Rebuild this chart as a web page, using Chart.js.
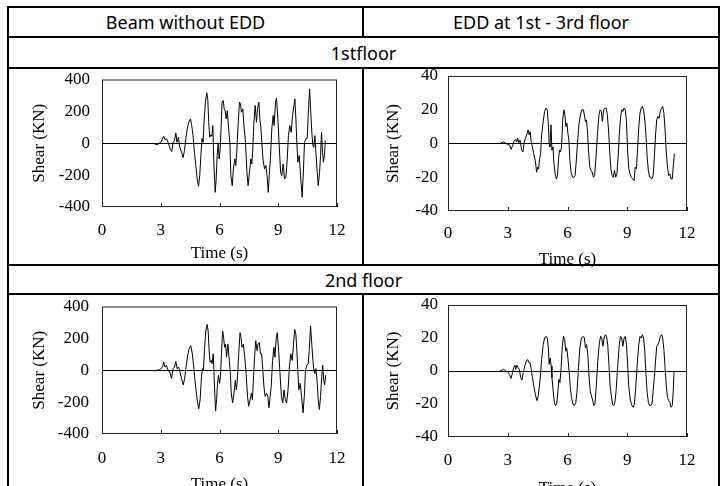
<!DOCTYPE html>
<html>
<head>
<meta charset="utf-8">
<script src="https://cdn.jsdelivr.net/npm/chart.js@4.4.0/dist/chart.umd.min.js"></script>
<style>
body { margin: 0; width: 722px; height: 486px; overflow: hidden; background: #fff; position: relative; }
.hl, .vl { position: absolute; background: #000; }
.hl { height: 2px; }
.vl { width: 2px; }
.cell { position: absolute; display: flex; align-items: center; justify-content: center;
        font-family: "Noto Sans", "Open Sans", sans-serif; font-size: 18px; color: #000; }
canvas { position: absolute; }
</style>
</head>
<body>
<!-- table lines -->
<div class="hl" style="left:7px;width:713px;top:6px"></div>
<div class="hl" style="left:7px;width:713px;top:36px"></div>
<div class="hl" style="left:7px;width:713px;top:67px"></div>
<div class="hl" style="left:7px;width:713px;top:264px"></div>
<div class="hl" style="left:7px;width:713px;top:293px"></div>
<div class="vl" style="left:7px;top:6px;height:480px"></div>
<div class="vl" style="left:718px;top:6px;height:480px"></div>
<div class="vl" style="left:362px;top:6px;height:32px"></div>
<div class="vl" style="left:362px;top:67px;height:199px"></div>
<div class="vl" style="left:362px;top:293px;height:193px"></div>

<div class="cell" style="left:9px;width:353px;top:8px;height:28px">Beam without EDD</div>
<div class="cell" style="left:364px;width:354px;top:8px;height:28px">EDD at 1st - 3rd floor</div>
<div class="cell" style="left:9px;width:709px;top:38px;height:29px">1stfloor</div>
<div class="cell" style="left:9px;width:709px;top:266px;height:27px">2nd floor</div>

<canvas id="c1"></canvas>
<canvas id="c2"></canvas>
<canvas id="c3"></canvas>
<canvas id="c4"></canvas>

<script>
// x and y ticks
const xTicks = [0, 3, 6, 9, 12];
const yTicksBeam = [-400, -200, 0, 200, 400];
const yTicksEdd = [-40, -20, 0, 20, 40];

// 1st floor, beam without EDD
const time1 = [
  2.60, 2.69, 2.81, 2.91, 3.00, 3.15, 3.22, 3.29, 3.37, 3.43,
  3.49, 3.56, 3.63, 3.70, 3.77, 3.83, 3.90, 3.97, 4.06, 4.14,
  4.21, 4.28, 4.35, 4.43, 4.52, 4.58, 4.65, 4.72, 4.79, 4.86,
  4.93, 4.99, 5.06, 5.11, 5.16, 5.21, 5.28, 5.35, 5.40, 5.45,
  5.50, 5.56, 5.61, 5.66, 5.71, 5.78, 5.83, 5.88, 5.93, 5.98,
  6.03, 6.08, 6.13, 6.19, 6.24, 6.29, 6.34, 6.40, 6.48, 6.53,
  6.58, 6.65, 6.71, 6.78, 6.83, 6.88, 6.95, 7.02, 7.07, 7.12,
  7.19, 7.26, 7.33, 7.40, 7.46, 7.53, 7.60, 7.65, 7.70, 7.75,
  7.82, 7.89, 7.94, 8.01, 8.06, 8.11, 8.16, 8.23, 8.30, 8.37,
  8.43, 8.49, 8.54, 8.60, 8.67, 8.74, 8.79, 8.86, 8.91, 8.98,
  9.05, 9.12, 9.18, 9.25, 9.32, 9.39, 9.46, 9.52, 9.59, 9.66,
  9.73, 9.80, 9.85, 9.90, 9.95, 10.00, 10.07, 10.14, 10.22, 10.29,
  10.34, 10.41, 10.48, 10.53, 10.60, 10.65, 10.72, 10.77, 10.82, 10.87,
  10.92, 10.99, 11.04, 11.11, 11.16, 11.21, 11.26, 11.31, 11.36, 11.40
];
const shear1 = [
  0, -4, -10, 0, 4, 44, 23, 27, 6, -15,
  -40, -52, 6, 17, 65, 6, 38, -25, -56, -90,
  -46, 27, 90, 132, 153, 111, 48, -56, -140, -224,
  -270, -203, -56, 31, 6, 132, 258, 316, 278, 132,
  38, 52, 44, 111, -119, -308, -224, -77, -4, -98,
  -46, 90, 258, 268, 216, 205, 153, 205, 69, 6,
  -203, -266, -161, -98, -140, -56, 111, 258, 247, 195,
  216, 90, 6, -182, -266, -182, -98, -130, -36, 111,
  237, 132, 216, 258, 153, 100, 6, -109, -161, -140,
  -203, -308, -203, -98, 90, 174, 111, 258, 283, 153,
  -15, -182, -203, -130, -224, -214, -98, 48, 111, 69,
  174, 237, 278, 153, 6, -119, -77, -203, -339, -161,
  6, 27, 31, 174, 341, 216, 59, -15, -25, 48,
  -56, -182, -266, -182, -77, 69, -56, -119, -77, 17
];

// 1st floor, EDD at 1st - 3rd floor
const time2 = [
  2.60, 2.70, 2.80, 2.90, 3.00, 3.10, 3.17, 3.25, 3.32, 3.40,
  3.45, 3.50, 3.56, 3.62, 3.70, 3.76, 3.82, 3.88, 3.95, 4.02,
  4.08, 4.12, 4.18, 4.24, 4.30, 4.38, 4.45, 4.50, 4.55, 4.60,
  4.65, 4.70, 4.78, 4.85, 4.92, 4.98, 5.03, 5.08, 5.12, 5.17,
  5.22, 5.27, 5.32, 5.38, 5.44, 5.50, 5.55, 5.60, 5.65, 5.70,
  5.76, 5.82, 5.87, 5.92, 5.97, 6.02, 6.07, 6.12, 6.18, 6.25,
  6.32, 6.38, 6.43, 6.50, 6.58, 6.65, 6.72, 6.80, 6.86, 6.90,
  6.95, 7.00, 7.06, 7.12, 7.18, 7.24, 7.30, 7.36, 7.42, 7.50,
  7.58, 7.64, 7.70, 7.75, 7.82, 7.88, 7.94, 8.00, 8.06, 8.12,
  8.18, 8.24, 8.30, 8.36, 8.42, 8.48, 8.54, 8.60, 8.66, 8.72,
  8.78, 8.84, 8.90, 8.96, 9.02, 9.08, 9.14, 9.20, 9.28, 9.34,
  9.40, 9.46, 9.52, 9.58, 9.64, 9.70, 9.76, 9.82, 9.88, 9.94,
  10.00, 10.06, 10.12, 10.18, 10.24, 10.30, 10.36, 10.42, 10.48, 10.54,
  10.60, 10.66, 10.72, 10.78, 10.84, 10.90, 10.96, 11.02, 11.08, 11.14,
  11.20, 11.26, 11.32, 11.37
];
const shear2 = [
  0, 0.5, 1, 0, -0.5, -1, -3.5, -1, 1.5, 2.5,
  1, 3, 0.5, 2, -4, -5, 0, 3, 5, 8,
  5, 7, 1, -2, -6, -10, -17, -14, -15, -9,
  -6, 5, 13, 19, 21, 20, 13, 0, -2, 11,
  -4, -2, -12, -18, -21, -19, -9, -4, -5, -2,
  14, 20, 17, 10, 12, 6, 2, -10, -17, -20,
  -20, -19, -12, 0, 12, 17, 20, 20, 16, 13,
  14, 8, -5, -14, -16, -17, -20, -19, -10, 5,
  17, 20, 19, 13, 20, 21, 21, 17, 8, -5,
  -15, -19, -20, -16, -20, -18, -8, 5, 15, 20,
  19, 21, 20, 13, -5, -15, -18, -20, -21, -22,
  -14, -15, -3, 10, 18, 21, 22, 20, 14, 5,
  -8, -16, -20, -20, -21, -19, -8, 5, 14, 16,
  15, 19, 21, 22, 18, 8, -5, -14, -19, -18,
  -21, -21, -12, -6
];

// 2nd floor, beam without EDD
const time3 = [
  2.60, 2.69, 2.81, 2.95, 3.09, 3.15, 3.22, 3.29, 3.38, 3.46,
  3.55, 3.63, 3.70, 3.77, 3.84, 3.91, 3.98, 4.06, 4.15, 4.22,
  4.29, 4.36, 4.44, 4.53, 4.60, 4.66, 4.73, 4.80, 4.87, 4.94,
  5.01, 5.08, 5.13, 5.18, 5.23, 5.30, 5.37, 5.42, 5.47, 5.52,
  5.57, 5.62, 5.68, 5.73, 5.80, 5.85, 5.90, 5.95, 6.00, 6.05,
  6.10, 6.16, 6.21, 6.26, 6.31, 6.36, 6.43, 6.50, 6.55, 6.60,
  6.67, 6.74, 6.81, 6.86, 6.91, 6.98, 7.05, 7.10, 7.15, 7.22,
  7.29, 7.36, 7.43, 7.49, 7.56, 7.63, 7.68, 7.73, 7.79, 7.85,
  7.92, 7.97, 8.04, 8.09, 8.15, 8.20, 8.27, 8.33, 8.40, 8.47,
  8.52, 8.57, 8.64, 8.71, 8.78, 8.83, 8.90, 8.95, 9.02, 9.09,
  9.16, 9.23, 9.29, 9.36, 9.43, 9.50, 9.57, 9.64, 9.71, 9.78,
  9.84, 9.90, 9.95, 10.00, 10.05, 10.12, 10.19, 10.27, 10.34, 10.39,
  10.46, 10.53, 10.58, 10.65, 10.70, 10.77, 10.82, 10.87, 10.92, 10.98,
  11.04, 11.10, 11.16, 11.22, 11.27, 11.32, 11.37, 11.42
];
const shear3 = [
  0, -4, 0, 4, 20, 51, 20, 31, -4, -10,
  -51, 10, 20, 55, 10, 20, -10, -51, -92, -51,
  20, 82, 133, 154, 113, 51, -41, -123, -195, -242,
  -185, -41, 10, 0, 123, 246, 287, 246, 123, 51,
  62, 41, 103, -62, -256, -185, -82, -31, -82, -41,
  103, 246, 205, 144, 164, 82, 164, 62, -10, -144,
  -205, -144, -62, -123, -62, 103, 236, 205, 144, 164,
  82, -21, -164, -226, -185, -144, -185, -62, 82, 185,
  123, 164, 174, 103, 103, 20, -103, -164, -144, -164,
  -236, -185, -103, 62, 144, 82, 205, 236, 123, -21,
  -164, -205, -123, -185, -205, -123, 20, 103, 62, 164,
  256, 226, 123, 0, -123, -82, -164, -267, -144, 0,
  31, 41, 123, 277, 185, 62, 0, -21, 10, -62,
  -185, -246, -164, -41, 31, -62, -92, -31
];

// 2nd floor, EDD at 1st - 3rd floor
const time4 = [
  2.60, 2.70, 2.80, 2.90, 3.00, 3.08, 3.17, 3.24, 3.30, 3.36,
  3.40, 3.46, 3.52, 3.58, 3.65, 3.71, 3.78, 3.85, 3.93, 4.00,
  4.06, 4.12, 4.18, 4.24, 4.32, 4.40, 4.47, 4.53, 4.58, 4.64,
  4.70, 4.78, 4.85, 4.92, 4.98, 5.04, 5.08, 5.13, 5.18, 5.22,
  5.28, 5.34, 5.40, 5.46, 5.52, 5.57, 5.62, 5.68, 5.74, 5.80,
  5.86, 5.91, 5.96, 6.02, 6.08, 6.14, 6.20, 6.27, 6.35, 6.42,
  6.48, 6.55, 6.62, 6.70, 6.78, 6.85, 6.90, 6.96, 7.02, 7.08,
  7.14, 7.20, 7.25, 7.32, 7.38, 7.44, 7.52, 7.60, 7.66, 7.72,
  7.78, 7.84, 7.90, 7.96, 8.02, 8.08, 8.14, 8.20, 8.26, 8.32,
  8.38, 8.44, 8.52, 8.60, 8.66, 8.72, 8.78, 8.84, 8.90, 8.96,
  9.02, 9.08, 9.16, 9.24, 9.30, 9.36, 9.42, 9.50, 9.58, 9.64,
  9.70, 9.76, 9.82, 9.88, 9.94, 10.00, 10.06, 10.12, 10.18, 10.24,
  10.30, 10.36, 10.42, 10.48, 10.54, 10.60, 10.66, 10.72, 10.78, 10.84,
  10.90, 10.96, 11.02, 11.08, 11.14, 11.20, 11.26, 11.31, 11.35
];
const shear4 = [
  0, 0.5, 1, 0, -0.5, -2, -4.5, -1, 2, 3.5,
  1, 3.5, 2, 1, -4, -5.5, -1, 3, 6, 7,
  5, 5, 1, -4, -10, -15, -18, -15, -10, -3,
  7, 16, 20, 21, 20, 14, 4, 8, 3, -4,
  -12, -19, -21, -20, -12, -5, -7, 2, 15, 21,
  19, 12, 14, 8, 0, -10, -16, -20, -21, -19,
  -12, 2, 14, 20, 21, 20, 14, 16, 10, -3,
  -12, -15, -17, -21, -20, -10, 6, 17, 21, 20,
  15, 20, 22, 21, 16, 4, -9, -15, -20, -21,
  -19, -12, 3, 16, 21, 20, 15, 20, 21, 16,
  4, -10, -18, -21, -22, -20, -11, 4, 16, 21,
  20, 22, 20, 12, -2, -13, -19, -21, -21, -20,
  -12, -4, 6, 15, 16, 18, 21, 22, 20, 13,
  2, -9, -16, -18, -19, -22, -21, -12, 0
];

const serif = {family: '"Liberation Serif", "Times New Roman", serif', size: 17, lineHeight: 1};

// plot box on the page and text offsets around it
const panels = [
  {id: 'c1', time: time1, shear: shear1, yTicks: yTicksBeam, l: 102, t: 79, r: 337, b: 207, gap: 12, yTitle: 62, xLab: 23, xTitle: 47},
  {id: 'c2', time: time2, shear: shear2, yTicks: yTicksEdd, l: 448, t: 76, r: 687, b: 211, gap: 10, yTitle: 54, xLab: 22, xTitle: 49},
  {id: 'c3', time: time3, shear: shear3, yTicks: yTicksBeam, l: 102, t: 305, r: 337, b: 434, gap: 13, yTitle: 62, xLab: 24, xTitle: 51},
  {id: 'c4', time: time4, shear: shear4, yTicks: yTicksEdd, l: 448, t: 305, r: 687, b: 437, gap: 10, yTitle: 54, xLab: 23, xTitle: 54}
];

// box around the plot + small inward ticks on the time axis
const frame = {
  id: 'frame',
  afterDatasetsDraw(chart) {
    const {ctx, chartArea: a, scales: {x}} = chart;
    ctx.save();
    ctx.strokeStyle = '#222';
    ctx.lineWidth = 1;
    ctx.strokeRect(a.left + 0.5, a.top + 0.5, a.right - a.left - 1, a.bottom - a.top - 1);
    x.ticks.forEach(tk => {
      const px = Math.round(x.getPixelForValue(tk.value)) + 0.5;
      ctx.beginPath();
      ctx.moveTo(px, a.bottom);
      ctx.lineTo(px, a.bottom - 4);
      ctx.stroke();
    });
    ctx.restore();
  }
};

panels.forEach(p => {
  const cv = document.getElementById(p.id);
  cv.width = p.r - p.l + 130;
  cv.height = p.b - p.t + 80;
  cv.style.left = (p.l - 100) + 'px';
  cv.style.top = (p.t - 20) + 'px';
  new Chart(cv.getContext('2d'), {
    type: 'line',
    data: {
      datasets: [{
        data: p.time.map((t, i) => ({x: t, y: p.shear[i]})),
        borderColor: '#000',
        borderWidth: 1,
        pointRadius: 0,
        tension: 0
      }]
    },
    options: {
      responsive: false,
      animation: false,
      devicePixelRatio: 1,
      layout: {padding: {left: 0, top: 20, right: 30, bottom: 0}},
      plugins: {legend: {display: false}, tooltip: {enabled: false}},
      scales: {
        x: {
          type: 'linear', min: 0, max: 12,
          afterBuildTicks: s => { s.ticks = xTicks.map(v => ({value: v})); },
          afterFit: s => { s.height = 60; },
          grid: {display: false},
          border: {display: false},
          ticks: {color: '#000', font: serif, padding: p.xLab - 15.5, maxRotation: 0, autoSkip: false},
          title: {display: true, text: 'Time (s)', color: '#000', font: serif,
                  padding: {top: 0, bottom: Math.max(0, 60 - p.xTitle - 8.5)}}
        },
        y: {
          min: p.yTicks[0], max: p.yTicks[p.yTicks.length - 1],
          afterBuildTicks: s => { s.ticks = p.yTicks.map(v => ({value: v})); },
          afterFit: s => { s.width = 100; },
          grid: {color: c => (c.tick && c.tick.value === 0) ? '#000' : 'rgba(0,0,0,0)', drawTicks: false, lineWidth: 1},
          border: {display: false},
          ticks: {color: '#000', font: serif, padding: p.gap, autoSkip: false},
          title: {display: true, text: 'Shear (KN)', color: '#000', font: serif,
                  padding: {top: 100 - p.yTitle - 8.5, bottom: 0}}
        }
      }
    },
    plugins: [frame]
  });
});
</script>
</body>
</html>
